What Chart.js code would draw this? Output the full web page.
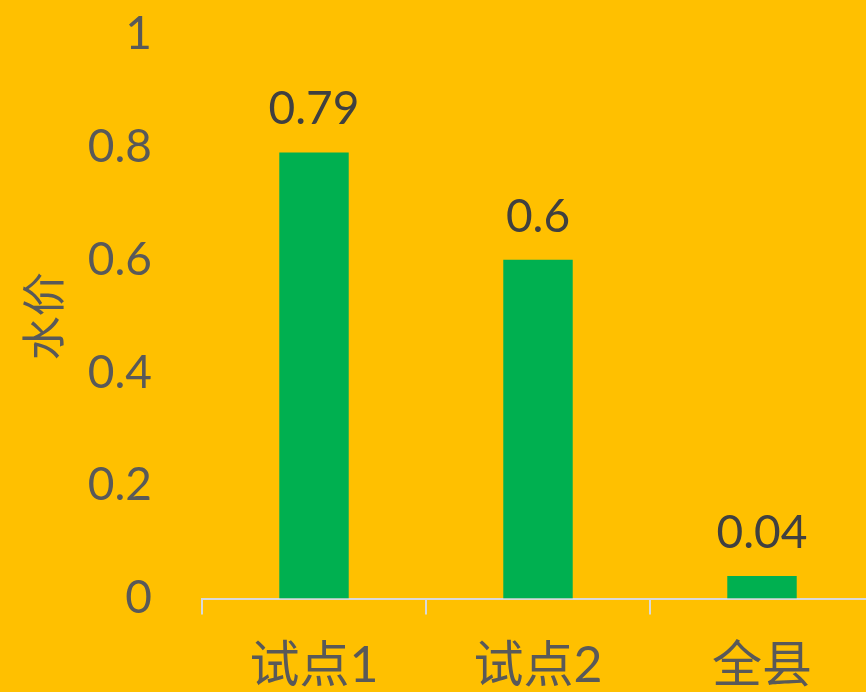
<!DOCTYPE html>
<html>
<head>
<meta charset="utf-8">
<script src="https://cdn.jsdelivr.net/npm/chart.js@4"></script>
<style>
  html, body { margin: 0; padding: 0; background: #FFC000; overflow: hidden; }
  #waterChart { display: block; }
</style>
</head>
<body>
<canvas id="waterChart" width="874" height="692"></canvas>
<script>
// 水价 bar chart
const categories = ['试点1', '试点2', '全县'];
const prices = [0.79, 0.6, 0.04];
const yTicks = [0, 0.2, 0.4, 0.6, 0.8, 1];

const tickGray = '#595959';
const labelGray = '#404040';
const numFont = 'Lato, "Noto Sans CJK SC", sans-serif';

// draw value labels above each bar
const valueLabels = {
  id: 'valueLabels',
  afterDatasetsDraw(chart) {
    const ctx = chart.ctx;
    const meta = chart.getDatasetMeta(0);
    ctx.save();
    ctx.fillStyle = labelGray;
    ctx.font = '46px ' + numFont;
    ctx.textAlign = 'center';
    ctx.textBaseline = 'middle';
    meta.data.forEach((bar, i) => {
      ctx.fillText(String(prices[i]), bar.x, bar.y - 43);
    });
    ctx.restore();
  },
};

new Chart(document.getElementById('waterChart'), {
  type: 'bar',
  data: {
    labels: categories,
    datasets: [
      {
        data: prices,
        backgroundColor: '#00B050',
        borderWidth: 0,
        barPercentage: 0.31,
        categoryPercentage: 1,
      },
    ],
  },
  options: {
    responsive: false,
    animation: false,
    layout: { padding: { top: 34, right: 0, bottom: 0, left: 0 } },
    plugins: {
      legend: { display: false },
      tooltip: { enabled: false },
    },
    scales: {
      x: {
        grid: {
          display: true,
          drawOnChartArea: false,
          drawTicks: true,
          tickLength: 16,
          color: '#D9D9D9',
          lineWidth: 2,
          offset: true,
        },
        border: { display: true, color: '#D9D9D9', width: 2 },
        ticks: {
          color: tickGray,
          font: { family: numFont, size: 50 },
          padding: 21,
          maxRotation: 0,
        },
        afterFit(scale) {
          scale.height = 93.5;
          scale.paddingLeft = 0;
          scale.paddingRight = 0;
        },
      },
      y: {
        min: 0,
        max: 1,
        grid: { display: false, drawTicks: false },
        border: { display: false },
        afterBuildTicks(scale) {
          scale.ticks = yTicks.map((v) => ({ value: v }));
        },
        ticks: {
          color: tickGray,
          font: { family: numFont, size: 46 },
          padding: 50,
          callback: (v) => String(v),
        },
        title: {
          display: true,
          text: '水价',
          color: tickGray,
          font: { family: '"Noto Sans CJK SC", sans-serif', size: 44 },
          padding: { top: 17, bottom: 0 },
        },
        afterFit(scale) {
          scale.width = 202;
          scale.paddingTop = 0;
          scale.paddingBottom = 0;
        },
      },
    },
  },
  plugins: [valueLabels],
});
</script>
</body>
</html>
